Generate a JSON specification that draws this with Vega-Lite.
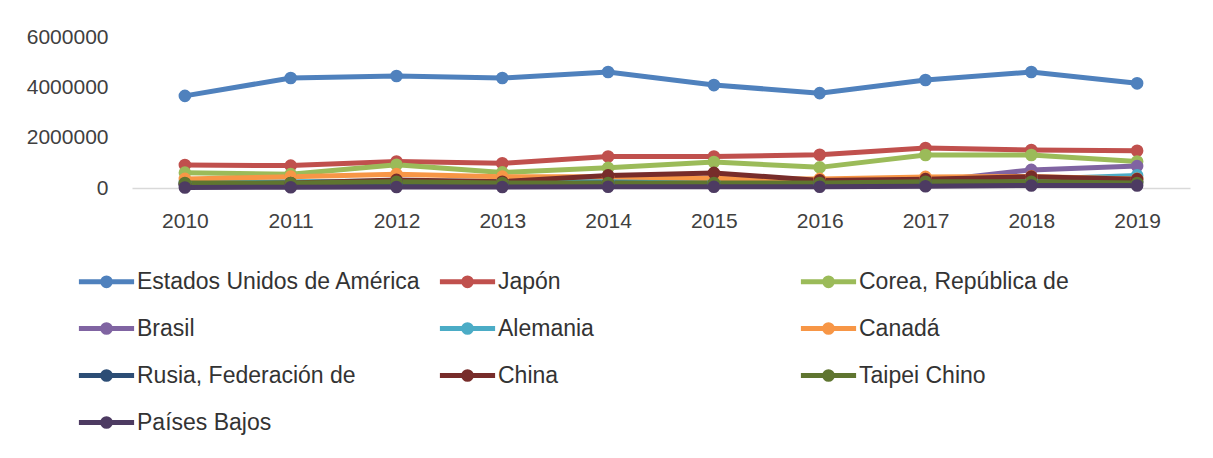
{
  "$schema": "https://vega.github.io/schema/vega-lite/v6.json",
  "autosize": "none",
  "width": 1058,
  "height": 151,
  "padding": {"left": 132, "top": 37, "right": 23, "bottom": 270},
  "background": "white",
  "config": {
    "view": {"stroke": null},
    "font": "Liberation Sans",
    "axis": {"labelColor": "#404040", "labelFont": "Liberation Sans"}
  },
  "data": {
    "values": [
      {"pais": "Estados Unidos de América", "anio": "2010", "valor": 3660000},
      {"pais": "Estados Unidos de América", "anio": "2011", "valor": 4370000},
      {"pais": "Estados Unidos de América", "anio": "2012", "valor": 4450000},
      {"pais": "Estados Unidos de América", "anio": "2013", "valor": 4370000},
      {"pais": "Estados Unidos de América", "anio": "2014", "valor": 4610000},
      {"pais": "Estados Unidos de América", "anio": "2015", "valor": 4090000},
      {"pais": "Estados Unidos de América", "anio": "2016", "valor": 3770000},
      {"pais": "Estados Unidos de América", "anio": "2017", "valor": 4290000},
      {"pais": "Estados Unidos de América", "anio": "2018", "valor": 4610000},
      {"pais": "Estados Unidos de América", "anio": "2019", "valor": 4160000},
      {"pais": "Japón", "anio": "2010", "valor": 910000},
      {"pais": "Japón", "anio": "2011", "valor": 890000},
      {"pais": "Japón", "anio": "2012", "valor": 1050000},
      {"pais": "Japón", "anio": "2013", "valor": 980000},
      {"pais": "Japón", "anio": "2014", "valor": 1250000},
      {"pais": "Japón", "anio": "2015", "valor": 1250000},
      {"pais": "Japón", "anio": "2016", "valor": 1320000},
      {"pais": "Japón", "anio": "2017", "valor": 1590000},
      {"pais": "Japón", "anio": "2018", "valor": 1510000},
      {"pais": "Japón", "anio": "2019", "valor": 1480000},
      {"pais": "Corea, República de", "anio": "2010", "valor": 610000},
      {"pais": "Corea, República de", "anio": "2011", "valor": 550000},
      {"pais": "Corea, República de", "anio": "2012", "valor": 920000},
      {"pais": "Corea, República de", "anio": "2013", "valor": 620000},
      {"pais": "Corea, República de", "anio": "2014", "valor": 800000},
      {"pais": "Corea, República de", "anio": "2015", "valor": 1030000},
      {"pais": "Corea, República de", "anio": "2016", "valor": 820000},
      {"pais": "Corea, República de", "anio": "2017", "valor": 1310000},
      {"pais": "Corea, República de", "anio": "2018", "valor": 1310000},
      {"pais": "Corea, República de", "anio": "2019", "valor": 1050000},
      {"pais": "Brasil", "anio": "2010", "valor": 150000},
      {"pais": "Brasil", "anio": "2011", "valor": 160000},
      {"pais": "Brasil", "anio": "2012", "valor": 180000},
      {"pais": "Brasil", "anio": "2013", "valor": 170000},
      {"pais": "Brasil", "anio": "2014", "valor": 180000},
      {"pais": "Brasil", "anio": "2015", "valor": 170000},
      {"pais": "Brasil", "anio": "2016", "valor": 180000},
      {"pais": "Brasil", "anio": "2017", "valor": 250000},
      {"pais": "Brasil", "anio": "2018", "valor": 720000},
      {"pais": "Brasil", "anio": "2019", "valor": 870000},
      {"pais": "Alemania", "anio": "2010", "valor": 230000},
      {"pais": "Alemania", "anio": "2011", "valor": 250000},
      {"pais": "Alemania", "anio": "2012", "valor": 280000},
      {"pais": "Alemania", "anio": "2013", "valor": 260000},
      {"pais": "Alemania", "anio": "2014", "valor": 280000},
      {"pais": "Alemania", "anio": "2015", "valor": 270000},
      {"pais": "Alemania", "anio": "2016", "valor": 270000},
      {"pais": "Alemania", "anio": "2017", "valor": 300000},
      {"pais": "Alemania", "anio": "2018", "valor": 350000},
      {"pais": "Alemania", "anio": "2019", "valor": 500000},
      {"pais": "Canadá", "anio": "2010", "valor": 360000},
      {"pais": "Canadá", "anio": "2011", "valor": 450000},
      {"pais": "Canadá", "anio": "2012", "valor": 550000},
      {"pais": "Canadá", "anio": "2013", "valor": 450000},
      {"pais": "Canadá", "anio": "2014", "valor": 450000},
      {"pais": "Canadá", "anio": "2015", "valor": 380000},
      {"pais": "Canadá", "anio": "2016", "valor": 360000},
      {"pais": "Canadá", "anio": "2017", "valor": 440000},
      {"pais": "Canadá", "anio": "2018", "valor": 460000},
      {"pais": "Canadá", "anio": "2019", "valor": 360000},
      {"pais": "Rusia, Federación de", "anio": "2010", "valor": 120000},
      {"pais": "Rusia, Federación de", "anio": "2011", "valor": 150000},
      {"pais": "Rusia, Federación de", "anio": "2012", "valor": 180000},
      {"pais": "Rusia, Federación de", "anio": "2013", "valor": 150000},
      {"pais": "Rusia, Federación de", "anio": "2014", "valor": 200000},
      {"pais": "Rusia, Federación de", "anio": "2015", "valor": 150000},
      {"pais": "Rusia, Federación de", "anio": "2016", "valor": 150000},
      {"pais": "Rusia, Federación de", "anio": "2017", "valor": 160000},
      {"pais": "Rusia, Federación de", "anio": "2018", "valor": 200000},
      {"pais": "Rusia, Federación de", "anio": "2019", "valor": 250000},
      {"pais": "China", "anio": "2010", "valor": 150000},
      {"pais": "China", "anio": "2011", "valor": 200000},
      {"pais": "China", "anio": "2012", "valor": 320000},
      {"pais": "China", "anio": "2013", "valor": 250000},
      {"pais": "China", "anio": "2014", "valor": 500000},
      {"pais": "China", "anio": "2015", "valor": 600000},
      {"pais": "China", "anio": "2016", "valor": 300000},
      {"pais": "China", "anio": "2017", "valor": 350000},
      {"pais": "China", "anio": "2018", "valor": 450000},
      {"pais": "China", "anio": "2019", "valor": 350000},
      {"pais": "Taipei Chino", "anio": "2010", "valor": 200000},
      {"pais": "Taipei Chino", "anio": "2011", "valor": 200000},
      {"pais": "Taipei Chino", "anio": "2012", "valor": 250000},
      {"pais": "Taipei Chino", "anio": "2013", "valor": 200000},
      {"pais": "Taipei Chino", "anio": "2014", "valor": 200000},
      {"pais": "Taipei Chino", "anio": "2015", "valor": 200000},
      {"pais": "Taipei Chino", "anio": "2016", "valor": 200000},
      {"pais": "Taipei Chino", "anio": "2017", "valor": 250000},
      {"pais": "Taipei Chino", "anio": "2018", "valor": 250000},
      {"pais": "Taipei Chino", "anio": "2019", "valor": 200000},
      {"pais": "Países Bajos", "anio": "2010", "valor": 20000},
      {"pais": "Países Bajos", "anio": "2011", "valor": 30000},
      {"pais": "Países Bajos", "anio": "2012", "valor": 40000},
      {"pais": "Países Bajos", "anio": "2013", "valor": 40000},
      {"pais": "Países Bajos", "anio": "2014", "valor": 50000},
      {"pais": "Países Bajos", "anio": "2015", "valor": 50000},
      {"pais": "Países Bajos", "anio": "2016", "valor": 50000},
      {"pais": "Países Bajos", "anio": "2017", "valor": 70000},
      {"pais": "Países Bajos", "anio": "2018", "valor": 100000},
      {"pais": "Países Bajos", "anio": "2019", "valor": 100000}
    ]
  },
  "encoding": {
    "x": {
      "field": "anio", "type": "ordinal",
      "scale": {"type": "point", "padding": 0.5},
      "axis": {"title": null, "labelAngle": 0, "ticks": false, "domainColor": "#D9D9D9", "domainWidth": 1.5, "labelPadding": 22, "labelFontSize": 21, "grid": false}
    },
    "y": {
      "field": "valor", "type": "quantitative",
      "scale": {"domain": [0, 6000000], "nice": false, "zero": true},
      "axis": {"title": null, "values": [0, 2000000, 4000000, 6000000], "format": "d", "grid": false, "domain": false, "ticks": false, "labelPadding": 24, "labelFontSize": 21}
    },
    "color": {
      "field": "pais", "type": "nominal",
      "scale": {
        "domain": ["Estados Unidos de América", "Japón", "Corea, República de", "Brasil", "Alemania", "Canadá", "Rusia, Federación de", "China", "Taipei Chino", "Países Bajos"],
        "range": ["#4F81BD", "#C0504D", "#9BBB59", "#8064A2", "#4BACC6", "#F79646", "#2C4D75", "#772C2A", "#5F7530", "#4D3B62"]
      },
      "legend": {
        "orient": "none", "legendX": -52, "legendY": 218,
        "direction": "horizontal", "columns": 3, "title": null,
        "gridAlign": "all", "labelLimit": 0,
        "labelFontSize": 23, "labelColor": "#333333", "labelFont": "Liberation Sans",
        "symbolType": "M-1.15,0H1.15M-0.16,0A0.16,0.16,0,1,0,0.16,0A0.16,0.16,0,1,0,-0.16,0Z",
        "symbolSize": 2304, "symbolStrokeWidth": 5, "symbolOpacity": 1,
        "labelOffset": 4, "rowPadding": 6, "columnPadding": 8,
        "encode": {"symbols": {"update": {"fill": {"scale": "color", "field": "value"}, "stroke": {"scale": "color", "field": "value"}}}}
      }
    }
  },
  "layer": [
    {"mark": {"type": "line", "strokeWidth": 5}},
    {"mark": {"type": "circle", "size": 160, "opacity": 1}}
  ]
}
